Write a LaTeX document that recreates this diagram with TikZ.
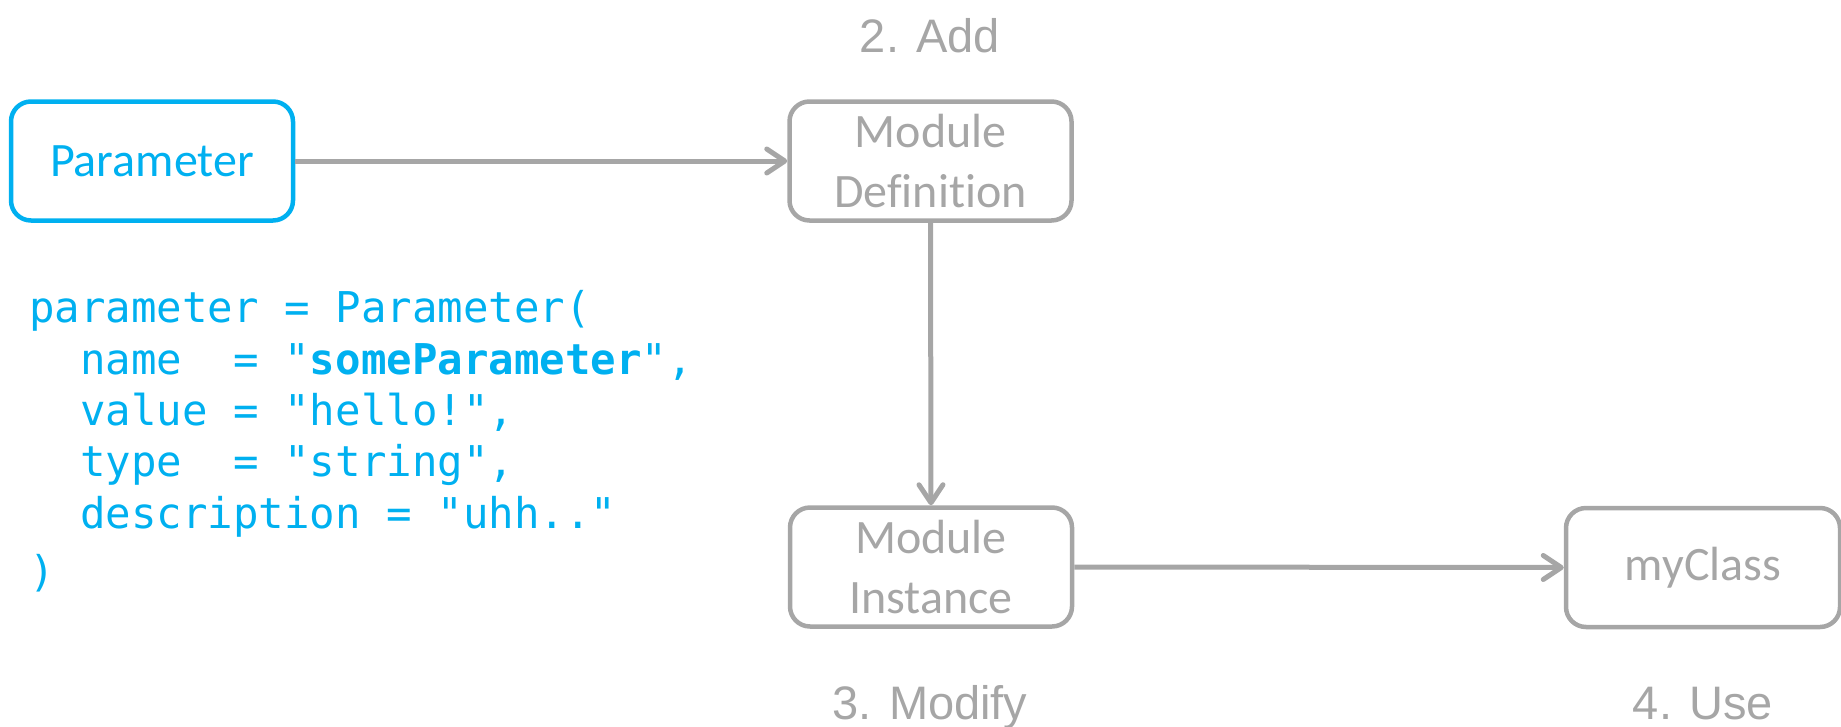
\documentclass[tikz,border=0pt]{standalone}
\usepackage{fontspec}
\newfontfamily\boxfont[Ligatures=NoCommon]{Carlito}
\newfontfamily\labfont{Liberation Sans}
\newfontfamily\codefont{DejaVu Sans Mono}
\usetikzlibrary{arrows.meta}
\definecolor{cblue}{HTML}{00B0F0}
\definecolor{cgray}{HTML}{A6A6A6}
\tikzset{
  box/.style={draw, rounded corners=20pt, minimum width=282pt, minimum height=119pt,
    line width=4.5pt, align=center, inner sep=0pt,
    font=\boxfont\fontsize{48}{60}\selectfont},
  graybox/.style={box, draw=cgray, text=cgray},
  bluebox/.style={box, draw=cblue, text=cblue},
  steplabel/.style={anchor=base, text=cgray, inner sep=0pt,
    font=\labfont\fontsize{47}{56}\selectfont},
  codeline/.style={anchor=base west, text=cblue, inner sep=0pt,
    font=\codefont\fontsize{42.4}{51}\selectfont},
  conn/.style={draw=cgray, line width=5pt,
    -{Straight Barb[length=18pt, width=24pt, line cap=round, line join=round]}}
}
\begin{document}
\begin{tikzpicture}[x=1pt, y=-1pt]
\useasboundingbox (0,0) rectangle (1841,726);
\node[bluebox] (param) at (152,161) {\raisebox{-3pt}{Parameter}};
\node[graybox] (def) at (930.5,161) {Module\\Definition};
\node[graybox] (inst) at (931,567) {Module\\Instance};
\node[graybox, minimum width=274pt] (cls) at (1703,567.5) {myClass};

\node[steplabel] (l2) at (930,52) {2. Add};
\node[steplabel] (l3) at (930,719) {3. Modify};
\node[steplabel] (l4) at (1703,719) {4. Use};

\node[codeline] (c1) at (29,322) {parameter = Parameter(};
\node[codeline] (c2) at (29,374) {\ \ name\ \ = "{\bfseries someParameter}",};
\node[codeline] (c3) at (29,425) {\ \ value = "hello!",};
\node[codeline] (c4) at (29,476) {\ \ type\ \ = "string",};
\node[codeline] (c5) at (29,528) {\ \ description = "uhh.."};
\node[codeline] (c6) at (29,586) {)};

\draw[conn] (param.east) -- (def.west);
\draw[conn] (def.south) -- (inst.north);
\draw[conn] (inst.east) -- (cls.west);
\end{tikzpicture}
\end{document}
